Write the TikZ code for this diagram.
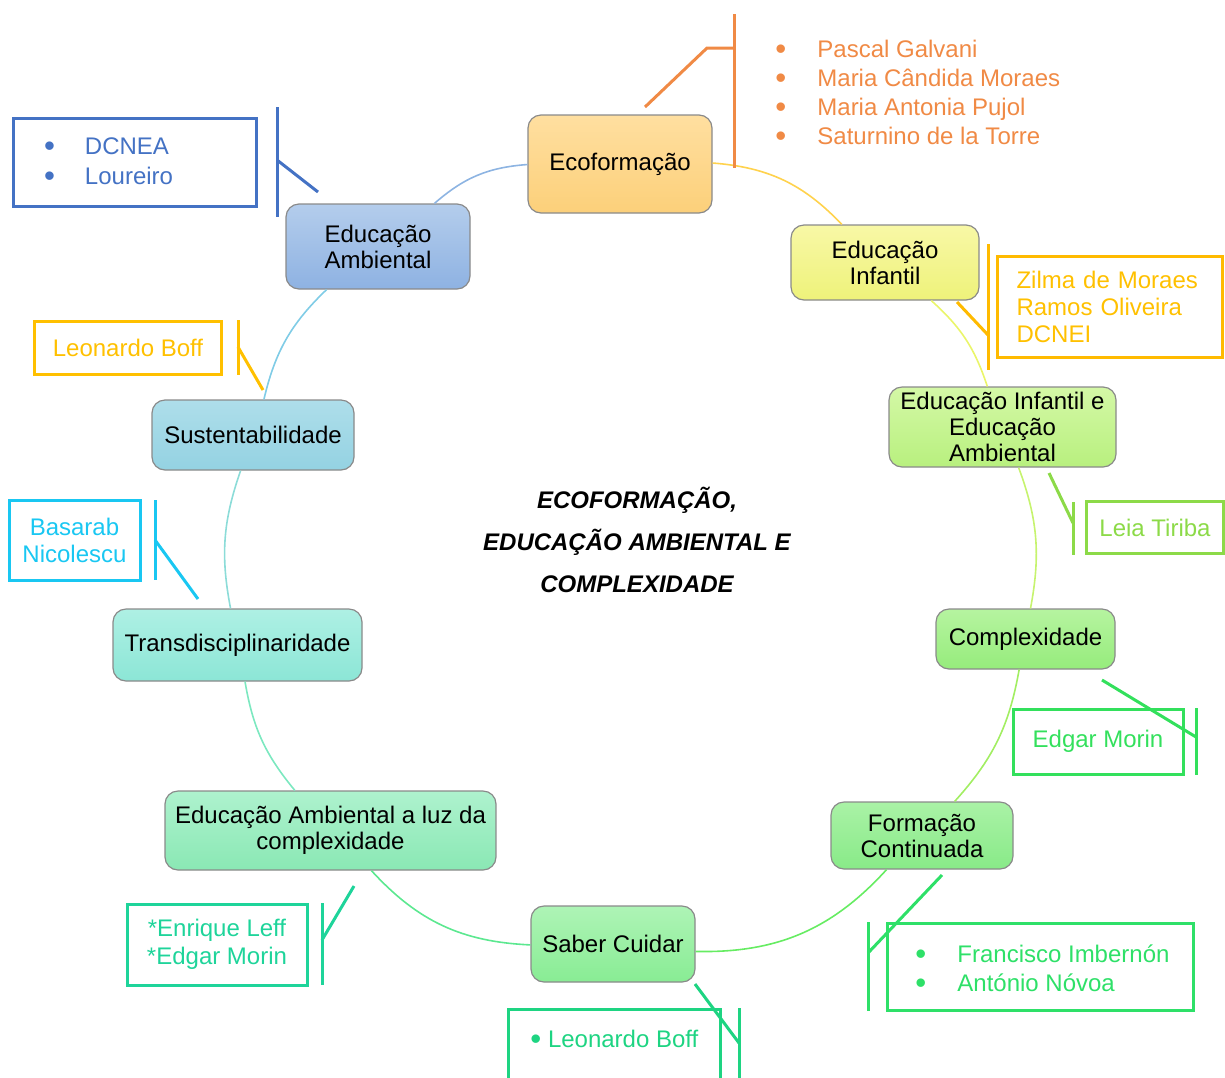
\documentclass[tikz,border=0pt]{standalone}
\usepackage{fontspec}
\setmainfont{Liberation Sans}
\usetikzlibrary{shadings}

% list bullet, a little larger than the font's own
\newcommand\listdot{\raisebox{-0.08em}{\scalebox{1.3}{•}}}

% box fills
\definecolor{ecoTop}{HTML}{FFDFA0}\definecolor{ecoBot}{HTML}{FCD07A}
\definecolor{eiTop}{HTML}{F8F8A6}\definecolor{eiBot}{HTML}{EEF27A}
\definecolor{eieaTop}{HTML}{D4F8A6}\definecolor{eieaBot}{HTML}{B8F07E}
\definecolor{compTop}{HTML}{B6F4A0}\definecolor{compBot}{HTML}{96EC7C}
\definecolor{fcTop}{HTML}{AAF2A6}\definecolor{fcBot}{HTML}{88EA88}
\definecolor{scTop}{HTML}{AEF4B6}\definecolor{scBot}{HTML}{88EC94}
\definecolor{eluzTop}{HTML}{AEF2CE}\definecolor{eluzBot}{HTML}{8AE8B4}
\definecolor{trTop}{HTML}{AEF0E4}\definecolor{trBot}{HTML}{8CE6D6}
\definecolor{suTop}{HTML}{AEDEEA}\definecolor{suBot}{HTML}{94D2E2}
\definecolor{eaTop}{HTML}{B4CDEC}\definecolor{eaBot}{HTML}{8EB2E2}
\definecolor{boxBorder}{HTML}{8A8A8A}

% ring segments
\definecolor{rA}{HTML}{FFD24D}
\definecolor{rB}{HTML}{EAF56A}
\definecolor{rC}{HTML}{C6F36E}
\definecolor{rD}{HTML}{A2EE62}
\definecolor{rE}{HTML}{66EC62}
\definecolor{rF}{HTML}{5CE890}
\definecolor{rG}{HTML}{7CE8C0}
\definecolor{rH}{HTML}{8CDCD8}
\definecolor{rI}{HTML}{80CCE6}
\definecolor{rJ}{HTML}{8DB4E2}

% reference notes
\definecolor{orangeC}{HTML}{F08A45}
\definecolor{blueC}{HTML}{4472C4}
\definecolor{goldC}{HTML}{FFC000}
\definecolor{ambarC}{HTML}{FFBA00}
\definecolor{cyanC}{HTML}{19C7F2}
\definecolor{tealC}{HTML}{1ED49A}
\definecolor{mintC}{HTML}{1ED482}
\definecolor{grnC}{HTML}{2EE068}
\definecolor{limeC}{HTML}{33E05C}
\definecolor{leafC}{HTML}{8CDA48}

\begin{document}
\begin{tikzpicture}[x=0.5pt,y=-0.5pt,
  topic/.style n args={4}{draw=boxBorder, line width=0.6pt, rounded corners=6.5pt,
    top color=#1, bottom color=#2, minimum width=#3, minimum height=#4,
    align=center, inner sep=0pt, font=\fontsize{12}{13}\selectfont},
  ring/.style={line width=0.8pt},
  note/.style={draw=#1, text=#1, line width=1.5pt, inner sep=0pt,
    font=\fontsize{12}{13.5}\selectfont},
  notetext/.style={text=#1, inner sep=0pt, font=\fontsize{12}{14.5}\selectfont},
  tick/.style={draw=#1, line width=1.5pt}]
\useasboundingbox (0,0) rectangle (1225,1077);

% ---- topics on the ring ----
\node[topic={ecoTop}{ecoBot}{92pt}{49pt}] (eco) at (620,164) {Ecoforma\c{c}\~ao};
\node[topic={eiTop}{eiBot}{94pt}{37.5pt}] (ei) at (885,262.5) {Educa\c{c}\~ao\\Infantil};
\node[topic={eieaTop}{eieaBot}{113.5pt}{40pt}] (eiea) at (1002.5,427) {Educa\c{c}\~ao Infantil e\\Educa\c{c}\~ao\\Ambiental};
\node[topic={compTop}{compBot}{89.5pt}{30pt}] (comp) at (1025.5,639) {Complexidade};
\node[topic={fcTop}{fcBot}{91pt}{33.5pt}] (fc) at (922,835.5) {Forma\c{c}\~ao\\Continuada};
\node[topic={scTop}{scBot}{82pt}{38pt}] (sc) at (613,944) {Saber Cuidar};
\node[topic={eluzTop}{eluzBot}{165.5pt}{39.5pt}] (eluz) at (330.5,830.5) {Educa\c{c}\~ao Ambiental a luz da\\complexidade};
\node[topic={trTop}{trBot}{124.5pt}{36pt}] (tr) at (237.5,645) {Transdisciplinaridade};
\node[topic={suTop}{suBot}{101pt}{35pt}] (su) at (253,435) {Sustentabilidade};
\node[topic={eaTop}{eaBot}{92pt}{42.5pt}] (ea) at (378,246.5) {Educa\c{c}\~ao\\Ambiental};

% ---- ring connectors ----
\draw[ring, rA] (eco) to[bend left=21] (ei);
\draw[ring, rB] (ei) to[bend left=15] (eiea);
\draw[ring, rC] (eiea) to[bend left=15.5] (comp);
\draw[ring, rD] (comp) to[bend left=16] (fc);
\draw[ring, rE] (fc) to[bend left=24.5] (sc);
\draw[ring, rF] (sc) to[bend left=22.5] (eluz);
\draw[ring, rG] (eluz) to[bend left=15] (tr);
\draw[ring, rH] (tr) to[bend left=15] (su);
\draw[ring, rI] (su) to[bend left=16.5] (ea);
\draw[ring, rJ] (ea) to[bend left=18.5] (eco);

% ---- central title ----
\node[align=center, inner sep=0pt, font=\fontsize{12}{21}\selectfont\bfseries\itshape] (title) at (637,540)
  {ECOFORMA\c{C}\~AO,\\EDUCA\c{C}\~AO AMBIENTAL E\\COMPLEXIDADE};

% ---- Ecoformacao references ----
\node[notetext=orangeC, anchor=west, align=left] (ecolist) at (775,93.5)
  {\makebox[21pt][l]{\listdot}Pascal Galvani\\\makebox[21pt][l]{\listdot}Maria C\^andida Moraes\\
   \makebox[21pt][l]{\listdot}Maria Antonia Pujol\\\makebox[21pt][l]{\listdot}Saturnino de la Torre};
\coordinate (ecoT) at (734,14); \coordinate (ecoB) at (734,168);
\coordinate (ecoK) at (734,48); \coordinate (ecoE) at (707,48); \coordinate (ecoS) at (645,107);
\draw[tick=orangeC] (ecoT) -- (ecoB);
\draw[tick=orangeC] (ecoS) -- (ecoE) -- (ecoK);

% ---- Educacao Ambiental references ----
\node[note=blueC, minimum height=44pt, text width=90.5pt, inner xsep=15.5pt, align=left,
  font=\fontsize{12}{15}\selectfont] (ealist) at (134.5,162)
  {\mbox{\makebox[20.5pt][l]{\listdot}DCNEA}\\\mbox{\makebox[20.5pt][l]{\listdot}Loureiro}};
\coordinate (eaT) at (277,107); \coordinate (eaB) at (277,217);
\coordinate (eaK) at (277,160); \coordinate (eaS) at (318,192);
\draw[tick=blueC] (eaT) -- (eaB);
\draw[tick=blueC] (eaK) -- (eaS);

% ---- Sustentabilidade references ----
\node[note=goldC, minimum width=93.5pt, minimum height=26.5pt] (sulist) at (128,348) {Leonardo Boff};
\coordinate (suT) at (238,320); \coordinate (suB) at (238,375);
\coordinate (suK) at (238,347); \coordinate (suS) at (263,390);
\draw[tick=goldC] (suT) -- (suB);
\draw[tick=goldC] (suK) -- (suS);

% ---- Transdisciplinaridade references ----
\node[note=cyanC, minimum width=65.5pt, minimum height=40pt, align=center] (trlist) at (74.5,540)
  {Basarab\\Nicolescu};
\coordinate (trT) at (155,500); \coordinate (trB) at (155,580);
\coordinate (trK) at (155,540); \coordinate (trS) at (198,599);
\draw[tick=cyanC] (trT) -- (trB);
\draw[tick=cyanC] (trK) -- (trS);

% ---- Educacao Ambiental a luz da complexidade references ----
\node[note=tealC, minimum width=90pt, minimum height=40.5pt, align=center,
  font=\fontsize{12}{14}\selectfont] (eluzlist) at (217,944.5)
  {*Enrique Leff\\*Edgar Morin};
\coordinate (elT) at (322,903); \coordinate (elB) at (322,985);
\coordinate (elK) at (322,940); \coordinate (elS) at (354,886);
\draw[tick=tealC] (elT) -- (elB);
\draw[tick=tealC] (elK) -- (elS);

% ---- Saber Cuidar references ----
\node[note=mintC, minimum width=106pt, minimum height=45.5pt] (scbox) at (614,1054.5) {};
\node[notetext=mintC, anchor=west] (sclist) at (530,1040) {\listdot\ Leonardo Boff};
\coordinate (scT) at (739,1008); \coordinate (scB) at (739,1090);
\coordinate (scK) at (739,1043); \coordinate (scS) at (695,984);
\draw[tick=mintC] (scT) -- (scB);
\draw[tick=mintC] (scK) -- (scS);

% ---- Formacao Continuada references ----
\node[note=grnC, minimum height=43.5pt, text width=127pt, inner xsep=13pt, align=left,
  font=\fontsize{12}{14.5}\selectfont] (fclist) at (1040,966.5) {};
\node[notetext=grnC, anchor=west, align=left] (fcnames) at (915,969.5)
  {\mbox{\makebox[21pt][l]{\listdot}Francisco Imbern\'on}\\\mbox{\makebox[21pt][l]{\listdot}Ant\'onio N\'ovoa}};
\coordinate (fcT) at (868,922); \coordinate (fcB) at (868,1011);
\coordinate (fcK) at (868,953); \coordinate (fcS) at (942,875);
\draw[tick=grnC] (fcT) -- (fcB);
\draw[tick=grnC] (fcK) -- (fcS);

% ---- Complexidade references ----
\node[note=limeC, minimum width=85pt, minimum height=32.5pt] (complist) at (1098,741.5) {Edgar Morin};
\coordinate (coT) at (1196,708); \coordinate (coB) at (1196,775);
\coordinate (coK) at (1196,737); \coordinate (coS) at (1102,680);
\draw[tick=limeC] (coT) -- (coB);
\draw[tick=limeC] (coK) -- (coS);

% ---- Educacao Infantil e Educacao Ambiental references ----
\node[note=leafC, minimum width=68.5pt, minimum height=26pt] (eiealist) at (1155,527.5) {Leia Tiriba};
\coordinate (ieT) at (1073,502); \coordinate (ieB) at (1073,555);
\coordinate (ieK) at (1073,523); \coordinate (ieS) at (1049,473);
\draw[tick=leafC] (ieT) -- (ieB);
\draw[tick=leafC] (ieK) -- (ieS);

% ---- Educacao Infantil references ----
\node[note=ambarC, text=goldC, minimum height=50.5pt, text width=93.5pt, inner xsep=9.5pt, align=left] (eilist) at (1110,306.5)
  {\mbox{Zilma de Moraes}\\\mbox{Ramos Oliveira}\\DCNEI};
\coordinate (eiT) at (988,244); \coordinate (eiB) at (988,370);
\coordinate (eiK) at (988,335); \coordinate (eiS) at (957,302);
\draw[tick=ambarC] (eiT) -- (eiB);
\draw[tick=ambarC] (eiK) -- (eiS);
\end{tikzpicture}
\end{document}
